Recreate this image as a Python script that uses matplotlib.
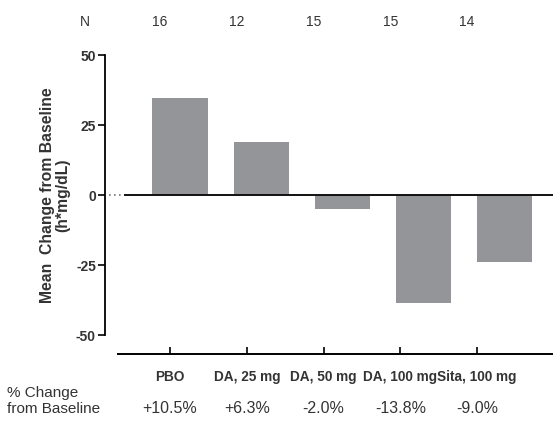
import numpy as np
import matplotlib.pyplot as plt
from matplotlib.transforms import blended_transform_factory

plt.rcParams['font.family'] = ['Liberation Sans', 'DejaVu Sans']

groups = ["PBO", "DA, 25 mg", "DA, 50 mg", "DA, 100 mg", "Sita, 100 mg"]
mean_change = [34.6, 18.8, -5.0, -38.6, -24.0]
n_subjects = [16, 12, 15, 15, 14]
pct_change = ["+10.5%", "+6.3%", "-2.0%", "-13.8%", "-9.0%"]
y_ticks = [50, 25, 0, -25, -50]

W, H = 553, 423
fig = plt.figure(figsize=(W / 100, H / 100), dpi=100)

# --- main bar axes ---
ax = fig.add_axes([105 / W, (H - 335) / H, 448 / W, 280 / H])
x = np.arange(len(groups))
ax.bar(x, mean_change, width=0.68, color="#939598", zorder=2)
ax.set_xlim(-0.925, 4.6)
ax.set_ylim(-50, 50)
ax.set_yticks(y_ticks)
ax.set_yticklabels([str(t) for t in y_ticks], fontweight="bold", fontsize=10, color="#333333")
ax.tick_params(axis="y", direction="out", length=5, width=1.2, pad=1.5)
ax.set_xticks([])
for s in ["top", "right", "bottom"]:
    ax.spines[s].set_visible(False)
ax.spines["left"].set_linewidth(1.3)

# zero line: short dotted piece, then solid
ax.axhline(0, xmin=0.01, xmax=0.045, color="#777777", lw=1.2, ls=(0, (1, 2)))
ax.axhline(0, xmin=0.045, xmax=1, color="#111111", lw=1.4, zorder=3)

ax.set_ylabel("Mean  Change from Baseline\n(h*mg/dL)", fontweight="bold",
              fontsize=11.3, color="#333333", labelpad=4, linespacing=1.05)

# --- category axis underneath (offset from bars as in the original) ---
ax2 = fig.add_axes([118 / W, (H - 354) / H - 0.001, (W - 118) / W, 0.001])
ax2.set_xlim(-0.678, 4.99)
ax2.set_ylim(0, 1)
ax2.set_yticks([])
ax2.set_xticks(x)
ax2.set_xticklabels(groups, fontweight="bold", fontsize=9.8, color="#333333")
ax2.xaxis.set_ticks_position("top")
ax2.tick_params(axis="x", direction="out", length=5, width=1.2,
                labeltop=False, labelbottom=True, pad=6)
for s in ["bottom", "left", "right"]:
    ax2.spines[s].set_visible(False)
ax2.spines["top"].set_linewidth(1.4)

# N row and % change row
tr = blended_transform_factory(ax2.transData, fig.transFigure)
for i, (n, p) in enumerate(zip(n_subjects, pct_change)):
    ax2.text(i - 0.13, (H - 22) / H, str(n), transform=tr,
             ha="center", va="center", fontsize=10, color="#333333")
    ax2.text(i, (H - 408) / H, p, transform=tr,
             ha="center", va="center", fontsize=11.5, color="#333333")

fig.text(85 / W, (H - 22) / H, "N", ha="center", va="center", fontsize=10, color="#333333")
fig.text(7 / W, (H - 401) / H, "% Change\nfrom Baseline", ha="left", va="center",
         fontsize=11, color="#333333", linespacing=1.1)

fig.savefig("out.png", dpi=100)
